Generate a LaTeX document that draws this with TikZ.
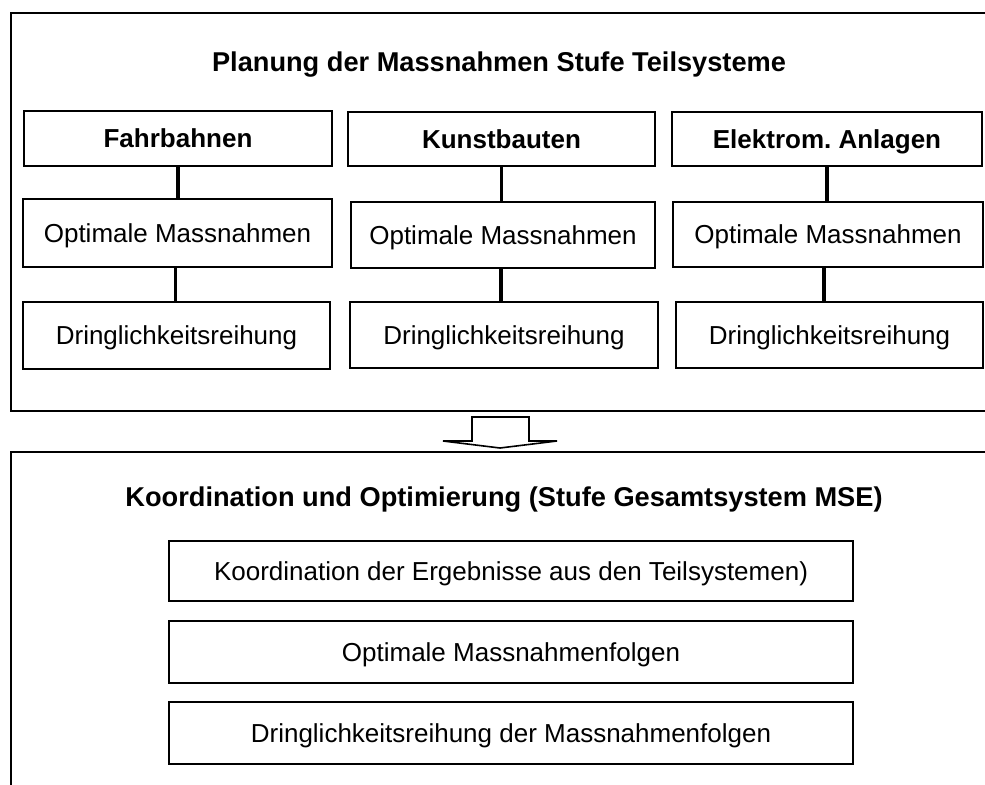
\documentclass[tikz,border=0pt]{standalone}
\usepackage{fontspec}
\setmainfont{Liberation Sans}
\frenchspacing
\begin{document}
\begin{tikzpicture}[x=0.75pt,y=-0.75pt,
  frame/.style={line width=1.6pt},
  cell/.style={draw,line width=1.2pt,rectangle,inner sep=0pt,align=center,
    text height=14pt,text depth=0pt,font=\fontsize{19.5}{23}\selectfont},
  head/.style={cell,font=\fontsize{19.5}{23}\selectfont\bfseries},
  sz/.style 2 args={minimum width={#1*0.75pt},minimum height={#2*0.75pt}},
  title/.style={inner sep=0pt,text height=14.5pt,text depth=0pt,
    font=\fontsize{20.4}{24}\selectfont\bfseries},
  link/.style={line width=2.3pt},
  blockarrow/.style={line width=1.2pt,fill=white}]
\useasboundingbox (0,0) rectangle (985,785);
\clip (0,0) rectangle (985,785);

% upper frame: planning per subsystem
\draw[frame] (1000,13) -- (11,13) -- (11,411) -- (1000,411);
\node[title] (t1) at (499,62) {Planung der Massnahmen Stufe Teilsysteme};

\node[head,sz={308}{55}] (fahr)  at (178,138.5) {Fahrbahnen};
\node[head,sz={307}{54}] (kunst) at (501.5,139) {Kunstbauten};
\node[head,sz={310}{54}] (elek)  at (827,139) {Elektrom. Anlagen};

\node[cell,sz={309}{68}] (opt1) at (177.5,233) {Optimale Massnahmen};
\node[cell,sz={304}{66}] (opt2) at (503,235) {Optimale Massnahmen};
\node[cell,sz={310}{65}] (opt3) at (828,234.5) {Optimale Massnahmen};

\node[cell,sz={307}{67}] (dr1) at (176.5,335.5) {Dringlichkeitsreihung};
\node[cell,sz={308}{66}] (dr2) at (504,335) {Dringlichkeitsreihung};
\node[cell,sz={307}{66}] (dr3) at (829.5,335) {Dringlichkeitsreihung};

\draw[link] (fahr.south)  -- (fahr.south |- opt1.north);
\draw[link] (kunst.south) -- (kunst.south |- opt2.north);
\draw[link] (elek.south)  -- (elek.south |- opt3.north);
\draw[link] ([xshift=-1.5pt]opt1.south) -- ([xshift=-1.5pt]opt1.south |- dr1.north);
\draw[link] ([xshift=-1.5pt]opt2.south) -- ([xshift=-1.5pt]opt2.south |- dr2.north);
\draw[link] ([xshift=-3pt]opt3.south) -- ([xshift=-3pt]opt3.south |- dr3.north);

% block arrow between the two stages
\draw[blockarrow] (472,441) -- (472,417) -- (529,417) -- (529,441) -- (557,441)
  -- (500,448) -- (443,441) -- cycle;

% lower frame: coordination on system level
\draw[frame] (1000,452) -- (11,452) -- (11,800);
\node[title] (t2) at (504,497) {Koordination und Optimierung (Stufe Gesamtsystem MSE)};

\node[cell,sz={684}{60}] (k1) at (511,571) {Koordination der Ergebnisse aus den Teilsystemen)};
\node[cell,sz={684}{62}] (k2) at (511,652) {Optimale Massnahmenfolgen};
\node[cell,sz={684}{62}] (k3) at (511,733) {Dringlichkeitsreihung der Massnahmenfolgen};
\end{tikzpicture}
\end{document}
